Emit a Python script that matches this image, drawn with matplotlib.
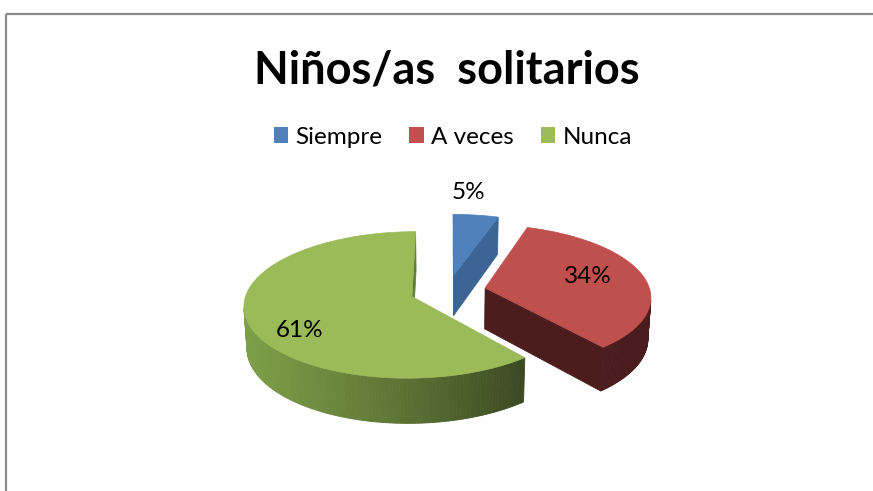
import numpy as np
import matplotlib.pyplot as plt
from matplotlib.patches import Polygon, Patch
from matplotlib.colors import to_rgb

plt.rcParams['font.family'] = ['Lato', 'DejaVu Sans']

# ---- data ----
title = 'Niños/as  solitarios'
labels = ['Siempre', 'A veces', 'Nunca']
values = [5, 34, 61]
pct_labels = ['5%', '34%', '61%']

top_colors = ['#4F81BD', '#C0504D', '#9BBB59']
side_colors = ['#3C6494', '#4D1D1E', '#5E7C36']
wall_light = ['#3C6494', '#521F20', '#7E9E48']
wall_dark = ['#3C6494', '#4A1C1D', '#3A4821']

# ---- fake 3d view (Excel style tilted pie) ----
CX, CY = 448, 291      # centre of pie in pixels
S = 165                # radius in pixels
elev = np.radians(25.5)
D = 8.0                # camera distance (perspective)
thick = 0.28
explode = 0.23
ca, sa = np.cos(elev), np.sin(elev)
cam = np.array([0.0, -D * ca, D * sa])


def proj(X, Yb, Z):
    X = np.asarray(X, float)
    Yb = np.asarray(Yb, float)
    Z = np.asarray(Z, float)
    sy = Z * ca + Yb * sa
    f = D / (D + Yb * ca - Z * sa)
    return CX + S * X * f, CY - S * sy * f


def visible(normal, point):
    return np.dot(normal, cam - np.asarray(point)) > 1e-6


fig = plt.figure(figsize=(8.73, 4.91), dpi=100)
ax = fig.add_axes([0, 0, 1, 1])
ax.set_xlim(0, 873)
ax.set_ylim(491, 0)
ax.axis('off')

# chart border (top and left only visible)
ax.plot([6, 873], [14, 14], color='#8c8c8c', lw=1.6, solid_capstyle='butt')
ax.plot([6, 6], [14, 491], color='#8c8c8c', lw=1.6, solid_capstyle='butt')

fracs = np.array(values) / sum(values)
ends = np.cumsum(fracs) * 360
starts = ends - fracs * 360

slices = []
for i in range(len(values)):
    mid = np.radians((starts[i] + ends[i]) / 2)
    ox, oy = explode * np.sin(mid), explode * np.cos(mid)
    slices.append((i, ox, oy))
# back to front
slices.sort(key=lambda s: -(D + s[2] * ca))

for i, ox, oy in slices:
    th = np.radians(np.linspace(starts[i], ends[i], 200))
    rimx = ox + np.sin(th)
    rimy = oy + np.cos(th)

    # radial faces
    for ang, sgn in ((starts[i], -1), (ends[i], 1)):
        a = np.radians(ang)
        nrm = np.array([np.sin(a + sgn * np.pi / 2), np.cos(a + sgn * np.pi / 2), 0])
        px = ox + 0.5 * np.sin(a)
        py = oy + 0.5 * np.cos(a)
        if visible(nrm, [px, py, -thick / 2]):
            xs = [ox, ox + np.sin(a), ox + np.sin(a), ox]
            ys = [oy, oy + np.cos(a), oy + np.cos(a), oy]
            zs = [0, 0, -thick, -thick]
            u, v = proj(xs, ys, zs)
            ax.add_patch(Polygon(np.column_stack([u, v]), closed=True,
                                 facecolor=side_colors[i], edgecolor=side_colors[i], lw=0.5))

    # outer wall with gradient
    c0 = np.array(to_rgb(wall_light[i]))
    c1 = np.array(to_rgb(wall_dark[i]))
    for k in range(len(th) - 1):
        tm = (th[k] + th[k + 1]) / 2
        nrm = np.array([np.sin(tm), np.cos(tm), 0])
        if not visible(nrm, [ox + np.sin(tm), oy + np.cos(tm), -thick / 2]):
            continue
        xs = [rimx[k], rimx[k + 1], rimx[k + 1], rimx[k]]
        ys = [rimy[k], rimy[k + 1], rimy[k + 1], rimy[k]]
        zs = [0, 0, -thick, -thick]
        u, v = proj(xs, ys, zs)
        w = np.clip((np.sin(tm) + 1) / 1.64, 0, 1) ** 1.3
        col = c0 * (1 - w) + c1 * w
        ax.add_patch(Polygon(np.column_stack([u, v]), closed=True,
                             facecolor=col, edgecolor=col, lw=0.6))

    # top face
    u, v = proj(np.r_[ox, rimx], np.r_[oy, rimy], np.zeros(len(th) + 1))
    ax.add_patch(Polygon(np.column_stack([u, v]), closed=True,
                         facecolor=top_colors[i], edgecolor=top_colors[i], lw=0.5))

# percentage labels
label_frac = [0.25, 0.47, 0.43]
label_r = [1.42, 0.66, 0.77]
for i in range(len(values)):
    mid = np.radians((starts[i] + ends[i]) / 2)
    a = np.radians(starts[i] + label_frac[i] * (ends[i] - starts[i]))
    ox, oy = explode * np.sin(mid), explode * np.cos(mid)
    u, v = proj(ox + label_r[i] * np.sin(a), oy + label_r[i] * np.cos(a), 0)
    ax.text(u, v, pct_labels[i], ha='center', va='center', fontsize=17.5, color='black')

ax.text(447, 83, title, ha='center', va='baseline', fontsize=32.5, fontweight='bold')

handles = [Patch(facecolor=c, edgecolor='none') for c in top_colors]
fig.legend(handles, labels, loc='center', bbox_to_anchor=(453 / 873, 1 - 137 / 491),
           ncol=3, frameon=False, fontsize=17.5, handlelength=0.6, handleheight=0.6,
           handletextpad=0.3, columnspacing=1.1, borderpad=0)

fig.savefig('out.png', dpi=100)
